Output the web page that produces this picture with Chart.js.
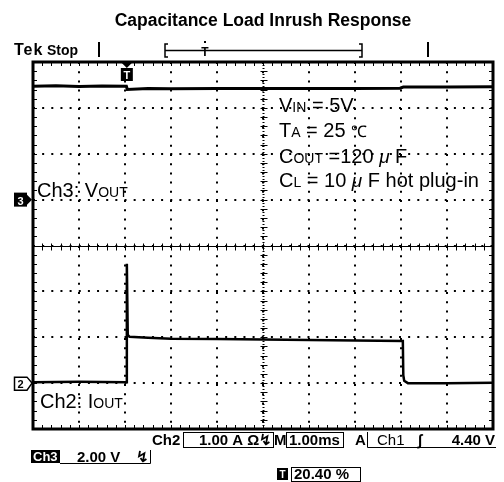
<!DOCTYPE html>
<html lang="en">
<head>
<meta charset="UTF-8">
<title>Capacitance Load Inrush Response</title>
<script src="https://cdn.jsdelivr.net/npm/chart.js"></script>
<style>
    body { margin: 0; background: #fff; }
</style>
</head>
<body>
<canvas id="mychart" width="504" height="482"></canvas>
<script>
    // screen time in ms (10 div x 1.00 ms/div), trigger at 20.40 %
    const vTime = [0, 0.5, 1.0, 1.5, 2.03, 2.05, 2.5, 3, 4, 5, 6, 7, 7.98, 8.05, 9, 10];
    const vOut  = [4.94, 4.96, 4.93, 4.95, 4.94, 4.80, 4.84, 4.83, 4.84, 4.85, 4.84, 4.85, 4.86, 4.91, 4.91, 4.92];

    const iTime = [0, 1, 2.03, 2.04, 2.06, 2.1, 2.5, 3, 4, 5, 6, 7, 8.04, 8.05, 8.07, 8.15, 9, 10];
    const iOut  = [0.02, 0.03, 0.02, 2.6, 1.05, 1.01, 0.99, 0.97, 0.96, 0.95, 0.94, 0.93, 0.92, 0.17, 0.05, 0.0, 0.0, 0.01];

    // vertical settings: Ch3 2.00 V/div (ground 1 div above centre), Ch2 1.00 A/div (ground 3 div below centre)
    const voltRange = [-10, 6];
    const ampRange = [-1, 7];
    const timeRange = [0, 10];

    const FONT = '"Liberation Sans", Arial, sans-serif';

    function runs(ctx, x, y, parts) {
        for (const [t, f] of parts) {
            ctx.font = f;
            ctx.fillText(t, x, y);
            x += ctx.measureText(t).width;
        }
    }

    const scopePlugin = {
        id: 'scope',
        beforeDatasetsDraw(chart) {
            const ctx = chart.ctx, a = chart.chartArea;
            const x = chart.scales.x, y = chart.scales.y;
            const cx = Math.round(x.getPixelForValue(5)) + 0.5;
            const cy = Math.round(y.getPixelForValue(-2)) + 0.5;
            ctx.save();
            ctx.strokeStyle = '#000';
            ctx.lineWidth = 1;
            ctx.beginPath();
            ctx.moveTo(a.left, cy); ctx.lineTo(a.right, cy);
            for (let i = 0; i <= 50; i++) {
                const px = Math.round(x.getPixelForValue(i * 0.2)) + 0.5;
                ctx.moveTo(px, cy - 3); ctx.lineTo(px, cy + 4);
                ctx.moveTo(px, a.top); ctx.lineTo(px, a.top + 4);
                ctx.moveTo(px, a.bottom); ctx.lineTo(px, a.bottom - 4);
            }
            for (let i = 0; i <= 40; i++) {
                const py = Math.round(y.getPixelForValue(voltRange[0] + i * 0.4)) + 0.5;
                ctx.moveTo(cx - 3, py); ctx.lineTo(cx + 4, py);
                ctx.moveTo(a.left, py); ctx.lineTo(a.left + 4, py);
                ctx.moveTo(a.right, py); ctx.lineTo(a.right - 4, py);
            }
            ctx.stroke();
            ctx.setLineDash([1, 2]);
            ctx.lineWidth = 2;
            ctx.beginPath();
            ctx.moveTo(cx, a.top); ctx.lineTo(cx, a.bottom);
            ctx.stroke();
            ctx.restore();
        },
        afterDatasetsDraw(chart) {
            const ctx = chart.ctx, a = chart.chartArea;
            const x = chart.scales.x, y = chart.scales.y, yI = chart.scales.yI;
            ctx.save();
            ctx.strokeStyle = '#000';
            ctx.fillStyle = '#000';
            // frame
            ctx.lineWidth = 3;
            ctx.strokeRect(a.left, a.top, a.right - a.left, a.bottom - a.top);

            // trigger marker at top of graticule
            const tx = x.getPixelForValue(2.04);
            ctx.beginPath();
            ctx.moveTo(tx - 5, a.top + 1); ctx.lineTo(tx + 5, a.top + 1); ctx.lineTo(tx, a.top + 6);
            ctx.fill();
            ctx.fillRect(tx - 6, a.top + 6, 12, 13);
            ctx.fillStyle = '#fff';
            ctx.font = 'bold 11px ' + FONT;
            ctx.textAlign = 'center';
            ctx.fillText('T', tx, a.top + 17);

            // channel ground markers
            const g3 = y.getPixelForValue(0), g2 = yI.getPixelForValue(0);
            ctx.fillStyle = '#000';
            ctx.fillRect(14, g3 - 7, 13, 14);
            ctx.beginPath();
            ctx.moveTo(27, g3 - 5); ctx.lineTo(32, g3); ctx.lineTo(27, g3 + 5);
            ctx.fill();
            ctx.fillStyle = '#fff';
            ctx.fillText('3', 20.5, g3 + 5);
            ctx.fillStyle = '#000';
            ctx.lineWidth = 1.5;
            ctx.beginPath();
            ctx.moveTo(27, g2 - 6); ctx.lineTo(14.5, g2 - 6); ctx.lineTo(14.5, g2 + 7); ctx.lineTo(27, g2 + 7);
            ctx.lineTo(32, g2); ctx.closePath();
            ctx.stroke();
            ctx.fillText('2', 20.5, g2 + 5);
            ctx.textAlign = 'left';

            // channel labels
            const big = '20px ' + FONT, small = '14px ' + FONT;
            runs(ctx, 37, 197, [['Ch3: V', big], ['OUT', small]]);
            runs(ctx, 40, 408, [['Ch2: I', big], ['OUT', small]]);

            // test conditions
            const mu = 'italic 19px ' + FONT;
            runs(ctx, 279, 112, [['V', big], ['IN', small], [' = 5V', big]]);
            runs(ctx, 279, 137, [['T', big], ['A', small], [' = 25 ', big], ['\u2103', '16px ' + FONT]]);
            runs(ctx, 279, 163, [['C', big], ['OUT', small], [' =120 ', big], ['\u03bc', mu], [' F', big]]);
            runs(ctx, 279, 187, [['C', big], ['L', small], [' = 10 ', big], ['\u03bc', mu], [' F hot plug-in', big]]);

            // status bar above graticule
            ctx.font = 'bold 16px ' + FONT;
            ctx.letterSpacing = '1px';
            ctx.fillText('Tek', 14, 55);
            ctx.letterSpacing = '0px';
            ctx.font = 'bold 14px ' + FONT;
            ctx.fillText('Stop', 47, 55);
            ctx.lineWidth = 2;
            ctx.beginPath();
            ctx.moveTo(99, 42); ctx.lineTo(99, 57);
            ctx.moveTo(428, 42); ctx.lineTo(428, 57);
            ctx.stroke();
            ctx.lineWidth = 1.5;
            ctx.beginPath();
            ctx.moveTo(168, 44); ctx.lineTo(165, 44); ctx.lineTo(165, 57); ctx.lineTo(168, 57);
            ctx.moveTo(359, 44); ctx.lineTo(362, 44); ctx.lineTo(362, 57); ctx.lineTo(359, 57);
            ctx.moveTo(165, 50.5); ctx.lineTo(362, 50.5);
            ctx.stroke();
            ctx.font = 'bold 12px ' + FONT;
            ctx.textAlign = 'center';
            ctx.fillText('T', 205, 56);
            ctx.fillRect(204, 41, 2, 2);
            ctx.textAlign = 'left';

            // readouts below graticule
            const ro = 'bold 15px ' + FONT;
            ctx.lineWidth = 1;
            ctx.font = ro;
            ctx.fillText('Ch2', 152, 445);
            ctx.strokeRect(183.5, 432.5, 90, 15);
            ctx.fillText('1.00 A \u03a9\u21af', 199, 445);
            ctx.fillText('M', 274, 445);
            ctx.strokeRect(286.5, 432.5, 57, 15);
            ctx.fillText('1.00ms', 289, 445);
            ctx.fillText('A', 355, 445);
            ctx.beginPath();
            ctx.moveTo(367.5, 432); ctx.lineTo(367.5, 447.5); ctx.lineTo(496, 447.5);
            ctx.stroke();
            ctx.font = '15px ' + FONT;
            ctx.fillText('Ch1', 377, 445);
            ctx.font = ro;
            ctx.fillText('\u222b', 418, 445);
            ctx.textAlign = 'right';
            ctx.fillText('4.40 V', 495, 445);
            ctx.textAlign = 'left';

            ctx.fillRect(31, 450, 29, 13);
            ctx.fillStyle = '#fff';
            ctx.font = 'bold 13px ' + FONT;
            ctx.fillText('Ch3', 33, 461);
            ctx.fillStyle = '#000';
            ctx.beginPath();
            ctx.moveTo(60, 463.5); ctx.lineTo(150.5, 463.5); ctx.lineTo(150.5, 450);
            ctx.stroke();
            ctx.font = ro;
            ctx.fillText('2.00 V', 77, 462);
            ctx.fillText('\u21af', 136, 462);

            ctx.fillRect(277, 468, 11, 12);
            ctx.fillStyle = '#fff';
            ctx.font = 'bold 10px ' + FONT;
            ctx.textAlign = 'center';
            ctx.fillText('T', 282.5, 478);
            ctx.textAlign = 'left';
            ctx.fillStyle = '#000';
            ctx.font = ro;
            ctx.strokeRect(291.5, 467.5, 69, 14);
            ctx.fillText('20.40 %', 294, 479);
            ctx.restore();
        }
    };

    const setting = {
        type: 'scatter',
        data: {
            datasets: [{
                label: 'Ch3: VOUT',
                data: vTime.map((t, i) => ({x: t, y: vOut[i]})),
                yAxisID: 'y',
                showLine: true,
                borderColor: '#000',
                borderWidth: 3,
                pointRadius: 0
            }, {
                label: 'Ch2: IOUT',
                data: iTime.map((t, i) => ({x: t, y: iOut[i]})),
                yAxisID: 'yI',
                showLine: true,
                borderColor: '#000',
                borderWidth: 2.5,
                pointRadius: 0
            }]
        },
        options: {
            responsive: false,
            animation: false,
            layout: {padding: {left: 33, right: 11, top: 0, bottom: 53}},
            plugins: {
                legend: {display: false},
                tooltip: {enabled: false},
                title: {
                    display: true,
                    text: 'Capacitance Load Inrush Response',
                    color: '#000',
                    font: {family: FONT, size: 17.5, weight: 'bold'},
                    padding: {top: 11, bottom: 30}
                }
            },
            scales: {
                x: {
                    type: 'linear', min: timeRange[0], max: timeRange[1],
                    ticks: {stepSize: 1, display: false},
                    grid: {color: '#000', lineWidth: 2, drawTicks: false},
                    border: {display: false, dash: [2, 7.2]}
                },
                y: {
                    min: voltRange[0], max: voltRange[1],
                    ticks: {stepSize: 2, display: false},
                    grid: {color: '#000', lineWidth: 2, drawTicks: false},
                    border: {display: false, dash: [2, 7.15]}
                },
                yI: {
                    display: false, min: ampRange[0], max: ampRange[1]
                }
            }
        },
        plugins: [scopePlugin]
    };

    new Chart(document.getElementById('mychart'), setting);
</script>
</body>
</html>
